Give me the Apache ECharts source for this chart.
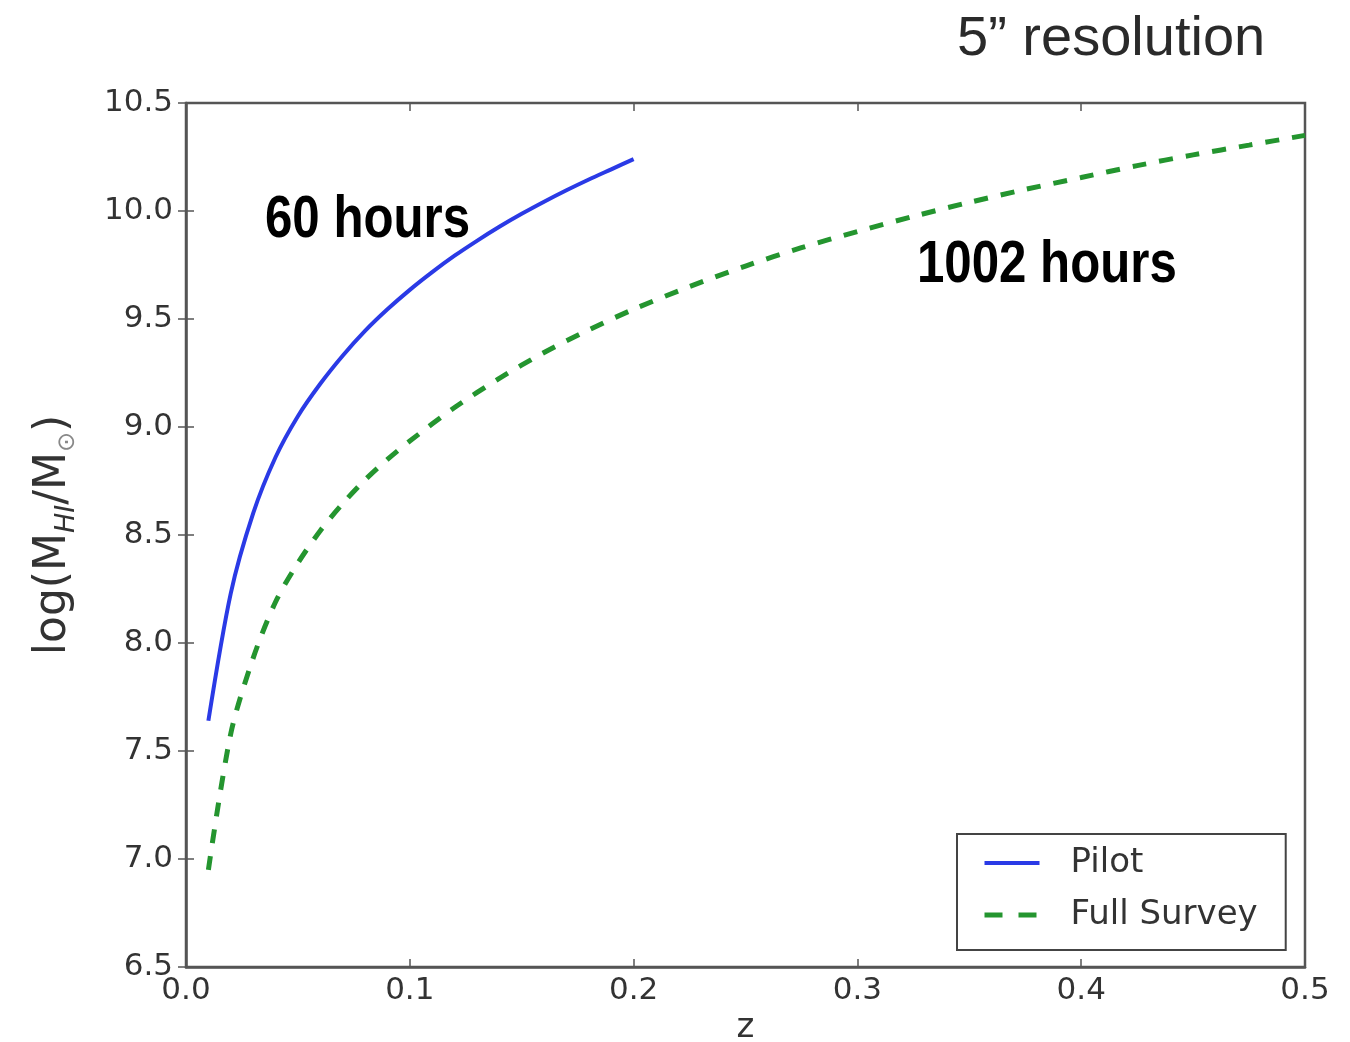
<!DOCTYPE html>
<html>
<head>
<meta charset="utf-8">
<script src="https://cdn.jsdelivr.net/npm/echarts@6/dist/echarts.min.js"></script>
<style>
  html, body { margin: 0; padding: 0; background: #fff; }
  #chart { width: 1350px; height: 1042px; }
</style>
</head>
<body>
<div id="chart"></div>
<script>
// values
const pilotZ = [0.01, 0.02, 0.03, 0.04, 0.05, 0.06, 0.07, 0.08, 0.09, 0.10,
                0.11, 0.12, 0.13, 0.14, 0.15, 0.16, 0.17, 0.18, 0.19, 0.20];
const pilotLogM = [7.64, 8.23, 8.60, 8.86, 9.05, 9.20, 9.33, 9.445, 9.545, 9.635,
                   9.717, 9.793, 9.862, 9.927, 9.987, 10.043, 10.096, 10.146, 10.193, 10.24];

const surveyZ = [0.01, 0.02, 0.03, 0.04, 0.05, 0.06, 0.07, 0.08, 0.09, 0.10,
                 0.12, 0.14, 0.16, 0.18, 0.20, 0.225, 0.25, 0.275, 0.30, 0.325,
                 0.35, 0.375, 0.40, 0.425, 0.45, 0.475, 0.50];
const surveyLogM = [6.95, 7.58, 7.93, 8.19, 8.37, 8.52, 8.645, 8.755, 8.85, 8.935,
                    9.09, 9.225, 9.345, 9.45, 9.545, 9.65, 9.745, 9.83, 9.905, 9.975,
                    10.04, 10.10, 10.155, 10.21, 10.26, 10.305, 10.35];

const xTicks = { min: 0, max: 0.5, interval: 0.1 };
const yTicks = { min: 6.5, max: 10.5, interval: 0.5 };

const zip = (xs, ys) => xs.map((x, i) => [x, ys[i]]);

const frameColor = '#555';
const labelFont = { fontFamily: 'DejaVu Sans', fontSize: 31, color: '#333' };
const tick = { show: true, inside: true, length: 8, lineStyle: { color: frameColor, width: 1.5 } };
const boldNarrow = { fontFamily: 'Liberation Sans', fontWeight: 'bold', fontSize: 60, fill: '#000', verticalAlign: 'middle' };

const chart = echarts.init(document.getElementById('chart'));

const option = {
    animation: false,
    backgroundColor: '#fff',
    grid: {
        left: 186, right: 45, top: 103, bottom: 75,
        outerBoundsMode: 'none',
        containLabel: false,
        show: true,
        borderColor: frameColor,
        borderWidth: 2.5
    },
    xAxis: [{
        type: 'value',
        ...xTicks,
        name: 'z',
        nameLocation: 'middle',
        nameGap: 32,
        nameTextStyle: { fontFamily: 'DejaVu Sans', fontSize: 34, color: '#333' },
        axisLine: { show: true, lineStyle: { color: frameColor, width: 2.5 } },
        axisTick: tick,
        splitLine: { show: false },
        axisLabel: { ...labelFont, margin: 8, formatter: v => v.toFixed(1) }
    }, {
        type: 'value',
        ...xTicks,
        position: 'top',
        axisLine: { show: false },
        axisTick: tick,
        axisLabel: { show: false },
        splitLine: { show: false }
    }],
    yAxis: [{
        type: 'value',
        ...yTicks,
        name: 'log(M{sub|HI}/M{sun|⊙})',
        nameLocation: 'middle',
        nameGap: 106,
        nameTextStyle: {
            fontFamily: 'DejaVu Sans', fontSize: 44, color: '#333', lineHeight: 52,
            rich: {
                sub: { fontFamily: 'DejaVu Sans', fontStyle: 'italic', fontSize: 27, color: '#333', verticalAlign: 'bottom', lineHeight: 52 },
                sun: { fontFamily: 'DejaVu Sans', fontSize: 24, color: '#888', verticalAlign: 'bottom', lineHeight: 52 }
            }
        },
        axisLine: { show: true, lineStyle: { color: frameColor, width: 2.5 } },
        axisTick: tick,
        splitLine: { show: false },
        axisLabel: { ...labelFont, margin: 13, formatter: v => v.toFixed(1) }
    }, {
        type: 'value',
        ...yTicks,
        position: 'right',
        axisLine: { show: false },
        axisTick: tick,
        axisLabel: { show: false },
        splitLine: { show: false }
    }],
    legend: {
        orient: 'vertical',
        left: 957,
        top: 834,
        padding: [10, 28, 16, 25],
        itemGap: 14,
        itemWidth: 55,
        itemHeight: 14,
        borderColor: '#444',
        borderWidth: 2,
        borderRadius: 0,
        itemStyle: { opacity: 0 },
        textStyle: { fontFamily: 'DejaVu Sans', fontSize: 34, color: '#333', lineHeight: 38, padding: [0, 0, 0, 26] },
        data: [
            { name: 'Pilot', lineStyle: { width: 4, color: '#2a3ae6', type: 'solid' } },
            { name: 'Full Survey', lineStyle: { width: 5, color: '#24952f', type: [18, 16] } }
        ]
    },
    series: [{
        name: 'Pilot',
        type: 'line',
        data: zip(pilotZ, pilotLogM),
        symbol: 'none',
        smooth: 0.3,
        color: '#2a3ae6',
        lineStyle: { width: 4, color: '#2a3ae6' }
    }, {
        name: 'Full Survey',
        type: 'line',
        data: zip(surveyZ, surveyLogM),
        symbol: 'none',
        smooth: 0.3,
        color: '#24952f',
        lineStyle: { width: 5, color: '#24952f', type: [14, 13] }
    }],
    graphic: [{
        type: 'text', left: 957, top: 12,
        style: { text: '5\u201D resolution', fontFamily: 'Liberation Sans', fontSize: 56, fill: '#2a2a2a' }
    }, {
        type: 'text', x: 265, y: 220, scaleX: 0.82,
        style: { text: '60 hours', ...boldNarrow }
    }, {
        type: 'text', x: 917, y: 265, scaleX: 0.82,
        style: { text: '1002 hours', ...boldNarrow }
    }]
};

chart.setOption(option);
</script>
</body>
</html>
